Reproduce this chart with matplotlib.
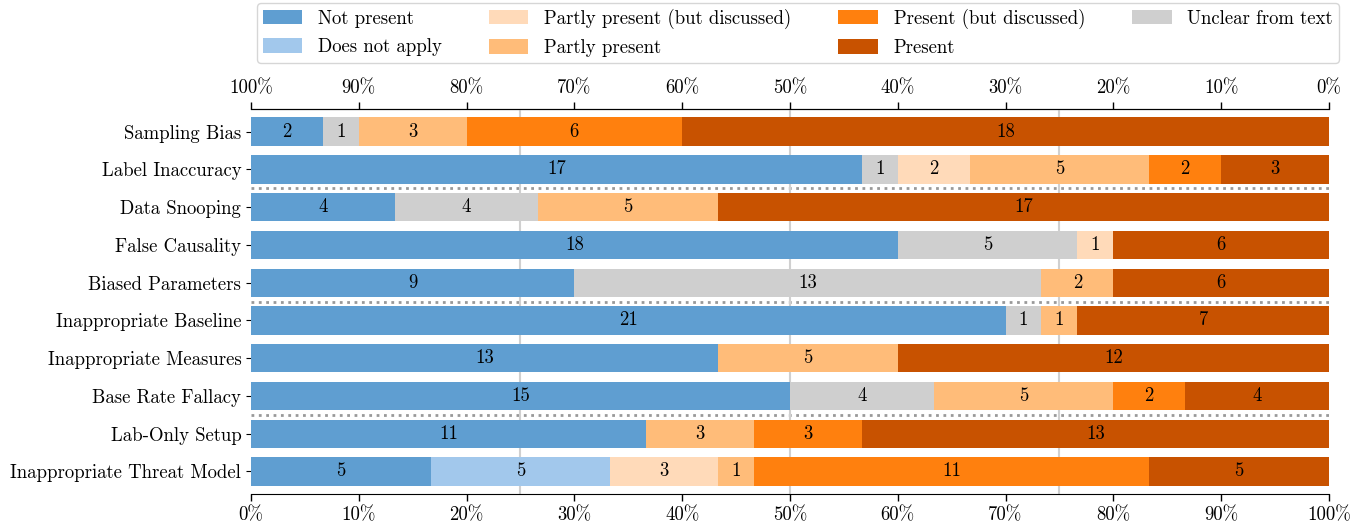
import matplotlib.pyplot as plt
import numpy as np

plt.rcParams['font.family'] = ['cmr10', 'DejaVu Serif']
plt.rcParams['axes.formatter.use_mathtext'] = True
plt.rcParams['font.size'] = 13.5

categories = ['Sampling Bias', 'Label Inaccuracy', 'Data Snooping', 'False Causality',
              'Biased Parameters', 'Inappropriate Baseline', 'Inappropriate Measures',
              'Base Rate Fallacy', 'Lab-Only Setup', 'Inappropriate Threat Model']

# counts per answer category (stacking order)
not_present      = [2, 17, 4, 18, 9, 21, 13, 15, 11, 5]
does_not_apply   = [0, 0, 0, 0, 0, 0, 0, 0, 0, 5]
unclear          = [1, 1, 4, 5, 13, 1, 0, 4, 0, 0]
partly_discussed = [0, 2, 0, 1, 0, 0, 0, 0, 0, 3]
partly_present   = [3, 5, 5, 0, 2, 1, 5, 5, 3, 1]
present_discussed = [6, 2, 0, 0, 0, 0, 0, 2, 3, 11]
present          = [18, 3, 17, 6, 6, 7, 12, 4, 13, 5]

series = [
    ('Not present', not_present, '#5F9ED1'),
    ('Does not apply', does_not_apply, '#A2C8EC'),
    ('Unclear from text', unclear, '#CFCFCF'),
    ('Partly present (but discussed)', partly_discussed, '#FFDAB9'),
    ('Partly present', partly_present, '#FFBC79'),
    ('Present (but discussed)', present_discussed, '#FF800E'),
    ('Present', present, '#C85200'),
]

separators = [1.5, 4.5, 7.5]

counts = np.array([s[1] for s in series], dtype=float)
totals = counts.sum(axis=0)
pct = counts / totals * 100

fig = plt.figure(figsize=(13.64, 5.24), dpi=100)
ax = fig.add_axes([0.184, 0.057, 0.7903, 0.735])

y = np.arange(len(categories))
left = np.zeros(len(categories))
handles = {}
for (name, vals, color), p in zip(series, pct):
    bars = ax.barh(y, p, left=left, height=0.75, color=color, label=name, zorder=2)
    handles[name] = bars
    for yi, (v, pi, li) in enumerate(zip(vals, p, left)):
        if v > 0:
            ax.text(li + pi / 2, yi, str(v), ha='center', va='center', fontsize=13.5, zorder=3)
    left += p

for s in separators:
    ax.axhline(s, color='#999999', linestyle=':', linewidth=2, zorder=1)

for gx in [25, 50, 75]:
    ax.axvline(gx, color='#d0d0d0', linewidth=1.5, zorder=1)

ax.set_xlim(0, 100)
ax.set_ylim(len(categories) - 0.4, -0.6)
ax.set_yticks(y)
ax.set_yticklabels(categories)
ax.set_xticks(range(0, 101, 10))
ax.set_xticklabels([f'{v}%' for v in range(0, 101, 10)])
ax.tick_params(axis='x', length=5, width=1)
ax.spines['left'].set_visible(False)
ax.spines['right'].set_visible(False)

sec = ax.secondary_xaxis('top', functions=(lambda v: 100 - v, lambda v: 100 - v))
sec.set_xticks(range(0, 101, 10))
sec.set_xticklabels([f'{v}%' for v in range(0, 101, 10)])
sec.tick_params(length=5, width=1)

order = ['Not present', 'Does not apply', 'Partly present (but discussed)', 'Partly present',
         'Present (but discussed)', 'Present', 'Unclear from text']
fig.legend([handles[n] for n in order], order, loc='upper center', ncol=4,
           bbox_to_anchor=(0.585, 0.998), fontsize=13.5, frameon=True,
           handlelength=2.1, handleheight=0.8, handletextpad=0.85,
           columnspacing=2.5, borderpad=0.3, labelspacing=0.55, borderaxespad=0.1)

fig.savefig('out.png')
